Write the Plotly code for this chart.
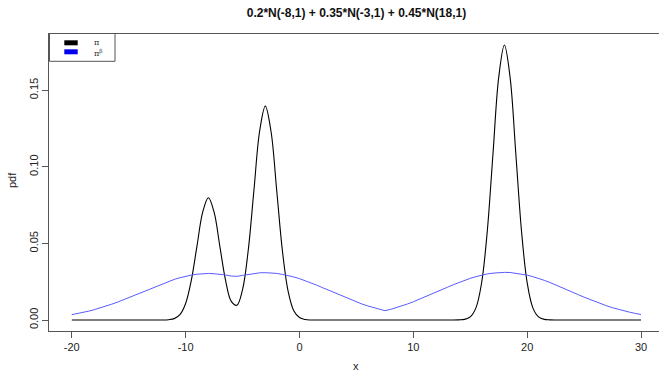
import plotly.graph_objects as go

x_vals = [-20, -19.5, -19, -18.5, -18, -17.5, -17, -16.5, -16, -15.5, -15, -14.5, -14, -13.5, -13, -12.5,
          -12, -11.5, -11, -10.5, -10, -9.5, -9, -8.5, -8, -7.5, -7, -6.5, -6, -5.5, -5, -4.5,
          -4, -3.5, -3, -2.5, -2, -1.5, -1, -0.5, 0, 0.5, 1, 1.5, 2, 2.5, 3, 3.5,
          4, 4.5, 5, 5.5, 6, 6.5, 7, 7.5, 8, 8.5, 9, 9.5, 10, 10.5, 11, 11.5,
          12, 12.5, 13, 13.5, 14, 14.5, 15, 15.5, 16, 16.5, 17, 17.5, 18, 18.5, 19, 19.5,
          20, 20.5, 21, 21.5, 22, 22.5, 23, 23.5, 24, 24.5, 25, 25.5, 26, 26.5, 27, 27.5,
          28, 28.5, 29, 29.5, 30]

pi_vals = [0, 0, 0, 0, 0, 0, 0, 0, 0, 0, 0, 0, 0, 0, 0, 0,
           0.0000, 0.0002, 0.0009, 0.0035, 0.0108, 0.0259, 0.0484, 0.0704, 0.0798, 0.0704, 0.0484, 0.0262, 0.0123, 0.0096, 0.0198, 0.0455,
           0.0847, 0.1232, 0.1396, 0.1232, 0.0847, 0.0453, 0.0189, 0.0061, 0.0016, 0.0003, 0, 0, 0, 0, 0, 0,
           0, 0, 0, 0, 0, 0, 0, 0, 0, 0, 0, 0, 0, 0, 0, 0,
           0, 0, 0, 0, 0.0001, 0.0004, 0.0020, 0.0079, 0.0243, 0.0583, 0.1089, 0.1584, 0.1795, 0.1584, 0.1089, 0.0583,
           0.0243, 0.0079, 0.0020, 0.0004, 0.0001, 0, 0, 0, 0, 0, 0, 0, 0, 0, 0, 0,
           0, 0, 0, 0, 0]

pi_beta_vals = [0.0035, 0.0042, 0.0049, 0.0058, 0.0068, 0.0078, 0.0090, 0.0103, 0.0116, 0.0131, 0.0146, 0.0161, 0.0177, 0.0193, 0.0209, 0.0224,
                0.0239, 0.0253, 0.0265, 0.0276, 0.0286, 0.0293, 0.0299, 0.0302, 0.0304, 0.0302, 0.0299, 0.0294, 0.0287, 0.0285, 0.0291, 0.0298,
                0.0304, 0.0308, 0.0309, 0.0308, 0.0304, 0.0298, 0.0291, 0.0281, 0.0270, 0.0257, 0.0243, 0.0228, 0.0212, 0.0196, 0.0180, 0.0164,
                0.0148, 0.0133, 0.0118, 0.0104, 0.0092, 0.0080, 0.0069, 0.0061, 0.0069, 0.0080, 0.0092, 0.0105, 0.0119, 0.0134, 0.0149, 0.0165,
                0.0181, 0.0198, 0.0214, 0.0230, 0.0245, 0.0259, 0.0272, 0.0283, 0.0293, 0.0301, 0.0306, 0.0310, 0.0311, 0.0310, 0.0306, 0.0301,
                0.0293, 0.0283, 0.0272, 0.0259, 0.0245, 0.0230, 0.0214, 0.0198, 0.0181, 0.0165, 0.0149, 0.0134, 0.0119, 0.0105, 0.0092, 0.0080,
                0.0069, 0.0060, 0.0051, 0.0043, 0.0036]

x_ticks = [-20, -10, 0, 10, 20, 30]
y_ticks = [0.00, 0.05, 0.10, 0.15]
y_tick_labels = ["0.00", "0.05", "0.10", "0.15"]
legend_labels = ["π", "π<sup>β</sup>"]
title_text = "0.2*N(-8,1) + 0.35*N(-3,1) + 0.45*N(18,1)"

W, H = 659, 373
L, R, T, B = 49, 0, 34, 42
pw, ph = W - L - R, H - T - B

def px_x(p):
    return (p - L) / pw

def px_y(p):
    return (H - B - p) / ph

FONT = "Liberation Sans, Arial, sans-serif"

fig = go.Figure()
fig.add_trace(go.Scatter(x=x_vals, y=pi_vals, mode="lines",
                         line=dict(color="black", width=1.1, shape="spline", smoothing=1.0),
                         showlegend=False, hoverinfo="skip"))
fig.add_trace(go.Scatter(x=x_vals, y=pi_beta_vals, mode="lines",
                         line=dict(color="#5a5aff", width=1), showlegend=False, hoverinfo="skip"))

shapes = [
    dict(type="rect", xref="paper", yref="paper", x0=px_x(49.5), x1=px_x(115), y0=px_y(61.3), y1=px_y(33.5),
         line=dict(color="#555", width=1), fillcolor="white", layer="above"),
    dict(type="rect", xref="paper", yref="paper", x0=px_x(64.3), x1=px_x(77.7), y0=px_y(45.3), y1=px_y(40.3),
         line=dict(width=0), fillcolor="black"),
    dict(type="rect", xref="paper", yref="paper", x0=px_x(64.3), x1=px_x(77.7), y0=px_y(54.3), y1=px_y(49.3),
         line=dict(width=0), fillcolor="#0000ee"),
]

annotations = [
    dict(text=legend_labels[0], xref="paper", yref="paper", x=px_x(92), y=px_y(43), xanchor="left", yanchor="middle",
         showarrow=False, font=dict(family="DejaVu Serif, serif", size=8, color="#333")),
    dict(text=legend_labels[1], xref="paper", yref="paper", x=px_x(92), y=px_y(52.5), xanchor="left", yanchor="middle",
         showarrow=False, font=dict(family="DejaVu Serif, serif", size=8, color="#333")),
    dict(text="x", xref="paper", yref="paper", x=px_x(356.5), y=px_y(366), xanchor="center", yanchor="middle",
         showarrow=False, font=dict(family=FONT, size=11, color="#222")),
    dict(text="pdf", xref="paper", yref="paper", x=px_x(12), y=px_y(180), xanchor="center", yanchor="middle",
         textangle=-90, showarrow=False, font=dict(family=FONT, size=11, color="#222")),
]

fig.update_layout(
    width=W, height=H,
    margin=dict(l=L, r=R, t=T, b=B, pad=0),
    paper_bgcolor="white", plot_bgcolor="white",
    title=dict(text="<b>" + title_text + "</b>", x=px_x(356.5), xref="paper", xanchor="center",
               y=1 - 13 / H, yref="container", yanchor="middle",
               font=dict(family=FONT, size=12, color="#111")),
    xaxis=dict(range=[-22, -22 + pw / 11.385], showgrid=False, zeroline=False,
               showline=True, linecolor="#555", linewidth=1, mirror=True,
               tickmode="array", tickvals=x_ticks, ticktext=[str(v) for v in x_ticks],
               ticks="outside", ticklen=6, tickcolor="#555",
               tickfont=dict(family=FONT, size=11, color="#222")),
    yaxis=dict(range=[-0.00718, 0.1867], showgrid=False, zeroline=False,
               showline=True, linecolor="#555", linewidth=1,
               tickmode="array", tickvals=y_ticks, ticktext=y_tick_labels, tickangle=-90,
               ticks="outside", ticklen=6, tickcolor="#555",
               tickfont=dict(family=FONT, size=11, color="#222")),
    shapes=shapes, annotations=annotations,
)

fig.write_html("out.html")
